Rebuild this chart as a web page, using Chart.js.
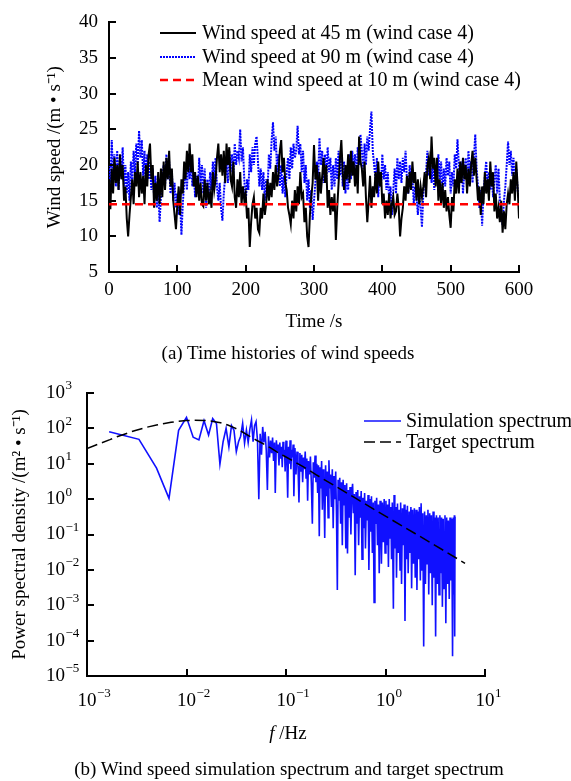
<!DOCTYPE html>
<html><head><meta charset="utf-8">
<script src="https://cdn.jsdelivr.net/npm/chart.js@4.4.0/dist/chart.umd.min.js"></script>
<style>
html,body{margin:0;padding:0;background:#fff;}
body{width:571px;height:781px;position:relative;overflow:hidden;font-family:'Liberation Serif','Times New Roman',serif;color:#000;}
#ca{position:absolute;left:0;top:0;}
#cb{position:absolute;left:0;top:365px;}
.lbl{position:absolute;transform:translate(-50%,-50%);white-space:nowrap;font-size:19px;line-height:1;}
</style></head><body>
<canvas id="ca" width="571" height="365"></canvas>
<canvas id="cb" width="571" height="416"></canvas>
<div class="lbl" style="left:288px;top:352px">(a) Time histories of wind speeds</div>
<div class="lbl" style="left:288px;top:732px"><i>f</i> /Hz</div>
<div class="lbl" style="left:289px;top:768px">(b) Wind speed simulation spectrum and target spectrum</div>
<script>
// ---------- (a) time histories ----------
const timeStep = 2; // seconds between samples
const timeTicks = [0, 100, 200, 300, 400, 500, 600];
const speedTicks = [5, 10, 15, 20, 25, 30, 35, 40];
const speed45 = [
 18, 13.8, 19.5, 16, 21, 17.5, 20, 16.5, 21.5, 18,
 20, 15, 17, 12.5, 10, 13, 15.5, 18, 14.5, 19,
 17, 20.5, 15.5, 19, 16, 18.5, 14.5, 20, 17, 21.5,
 23, 18, 20, 14, 17.5, 15, 19, 14.5, 19.5, 15.5,
 20.5, 16.5, 21, 18, 22, 17, 19.5, 15, 13, 11,
 14.5, 17, 13, 18, 16, 20.5, 18, 22, 19, 23,
 19, 21.5, 17, 19, 15.5, 18.5, 15, 17.5, 14.5, 14.2,
 18, 15, 17.5, 14.5, 16, 14, 19, 16.5, 18, 21,
 23, 19, 21.5, 18.5, 22, 17.5, 23, 20, 22.5, 18,
 17, 20.5, 15.5, 14, 18, 15.5, 19, 14.5, 17, 15,
 16, 12.5, 14, 8.5, 12, 14.5, 15.5, 12.5, 14, 11,
 10.5, 14, 12.5, 16, 13, 14.5, 18, 15, 17.5, 15.5,
 19, 16.5, 20, 17, 18.5, 22, 23.5, 19, 21, 17.5,
 16.5, 14, 13, 11.7, 15, 12.5, 16.5, 13.5, 17, 14.5,
 19, 15.5, 16, 12, 14, 10, 8.5, 13, 15.5, 17.5,
 22.8, 18, 20, 15, 19, 16, 18.5, 21, 17.5, 20,
 14, 16.5, 13, 15.5, 13.5, 16, 9.5, 14, 17.5, 21,
 23.5, 19, 16.5, 20, 18, 21.5, 17.5, 22, 18.5, 20.5,
 17, 20, 16, 24, 20.5, 19.5, 17, 20.5, 15.5, 12,
 15, 18.5, 14, 17, 15.5, 19, 16, 20.5, 17, 19,
 14.5, 16, 12.5, 15, 13, 16, 12.5, 14.5, 15.5, 13,
 13.5, 16, 14, 10, 12.5, 14, 17, 15, 18.5, 16,
 19, 16.5, 20.5, 17.5, 19, 15, 18, 14.5, 17, 15.5,
 17, 19, 15.5, 20, 21, 18, 24, 19.5, 21, 17,
 21, 15, 18, 14.5, 17.5, 14, 16.5, 13.5, 15.5, 13,
 11.2, 15.5, 13.5, 18, 16, 19.5, 16, 20.5, 17.5, 21,
 18, 20, 16, 19.5, 17, 20, 22, 18.5, 21, 18,
 15, 17, 13, 17, 14.5, 19, 16, 18, 15, 20.5,
 17, 19, 13.5, 16, 12.5, 14, 12, 15, 10.5, 13.5,
 11, 14.5, 16, 14.5, 18, 16, 19, 15, 20.5, 17,
 12.5
];
const speed90 = [
 20, 17.5, 23.5, 18.5, 21.5, 17, 22, 16.5, 21, 18.5,
 22.5, 17, 20, 16, 19, 15, 20.5, 17.5, 22, 19,
 23, 20, 24.8, 21, 23.5, 18.5, 22, 17, 21.5, 18,
 20.5, 16.5, 19.5, 15.5, 18.5, 14, 17, 12, 15.5, 18,
 20, 17, 21.5, 18, 20.5, 16, 19, 15, 17.5, 14,
 16, 13, 15, 10.2, 14.5, 17.5, 19, 16.5, 21, 18,
 20.5, 17, 19, 15.5, 18.5, 16, 21, 17.5, 20, 16,
 19.5, 14, 18, 15.5, 19, 16.5, 20.5, 18, 21, 17,
 15, 17.5, 14, 12.2, 16, 18.5, 20, 17.5, 22, 19,
 21.5, 18.5, 23, 20, 22, 21, 25, 20.5, 22.5, 18,
 14.5, 18, 16.5, 21.5, 19, 22.5, 20, 23, 24, 20.5,
 17, 19.5, 16.5, 19, 15, 18, 16.5, 21.5, 19.5, 23.5,
 26, 22, 24, 19, 21.5, 17, 20, 16, 18.5, 15.5,
 19, 21, 18, 22.5, 19.5, 23, 21, 22, 25.5, 21.5,
 23, 19, 22, 17.5, 20, 15, 18, 14, 16.5, 12.3,
 15, 17.5, 20.5, 18, 23.8, 20, 22, 17.5, 21.5, 18,
 22.5, 19, 21, 16.5, 20, 17, 21, 18, 22, 18.5,
 21.5, 17, 20.5, 16, 19, 16.5, 21.5, 18, 22, 19,
 21.5, 18, 22.5, 20, 24.3, 22, 19.5, 23, 20, 24,
 22, 25, 27.5, 22, 20, 18, 21, 15.5, 19, 17,
 21.5, 18, 20, 16.5, 19, 15, 17, 13, 16.5, 19.5,
 16, 21, 18, 20.5, 17.5, 21, 19, 22, 18, 16,
 20, 17.5, 18.5, 14.5, 17, 15.5, 13, 16, 14, 11.3,
 16, 18, 19, 22, 18.5, 21, 17.5, 20, 16.5, 20,
 17.5, 21.5, 18, 20.5, 16, 19.5, 17, 21, 18.5, 20.5,
 16, 19, 17, 21.5, 19.5, 23.6, 20, 17.5, 20.5, 16,
 19, 21, 17.5, 22, 19, 20.5, 17.5, 21, 24.3, 19.5,
 17, 14, 16.5, 11.5, 16, 18.5, 20.5, 17, 19, 16.5,
 19, 15.5, 18, 20, 16, 19.5, 15, 13, 11.6, 15,
 17, 20, 23.3, 20, 22, 18.5, 21, 17, 19.5, 16.5,
 15
];
const meanSpeed10 = 14.5;
const labelsA = ['Wind speed at 45 m (wind case 4)', 'Wind speed at 90 m (wind case 4)', 'Mean wind speed at 10 m (wind case 4)'];

// ---------- (b) spectra ----------
const freqTickExps = [-3, -2, -1, 0, 1];
const psdTickExps = [-5, -4, -3, -2, -1, 0, 1, 2, 3];
const simSpectrum = [
 [0.00167,80],[0.00333,49],[0.005,7.5],[0.00667,1.05],[0.00833,88],[0.01,205],[0.01167,56],[0.01333,47],
 [0.015,165],[0.01667,65],[0.01833,190],[0.02,138],[0.02167,9.8],[0.02333,42],[0.025,100],[0.02667,30],
 [0.02833,120],[0.03,89],[0.03167,22],[0.03333,42],[0.035,60],[0.03667,138],[0.03833,38],[0.04,90],
 [0.04167,40],[0.04333,95],[0.045,173],[0.04667,42],[0.04833,120],[0.05,155],
 [0.0517,45],[0.0533,1.0],[0.055,70],[0.0567,18],[0.0583,110],[0.06,40],[0.0617,80],[0.0633,25],[0.065,1.8],
 [0.0667,60],[0.0683,15],[0.07,45],[0.0717,20],[0.0733,55],[0.075,12],[0.0767,40],[0.078,1.5],[0.08,46],
 [0.0817,22],[0.0833,35],[0.085,9],[0.0867,40],[0.088,14],[0.09,30],[0.0917,8],[0.0933,42],[0.095,18],
 [0.0967,25],[0.098,6],[0.1,45],
 [0.102,12],[0.104,1.1],[0.106,30],[0.108,10],[0.11,46],[0.112,7],[0.114,25],[0.116,15],[0.118,35],[0.12,1.2],
 [0.123,28],[0.126,5],[0.129,22],[0.132,9],[0.135,0.8],[0.138,20],[0.141,6],[0.144,18],[0.147,3],[0.15,15],
 [0.153,7],[0.156,22],[0.159,4],[0.162,14],[0.165,0.9],[0.168,12],[0.172,5],[0.176,16],[0.18,2.5],[0.184,0.2],
 [0.188,11],[0.192,4],[0.196,17],[0.2,3],
 [0.204,10],[0.208,1.5],[0.212,9],[0.216,0.09],[0.22,8],[0.224,2],[0.228,12],[0.232,0.5],[0.236,7],[0.24,3],
 [0.245,0.08],[0.25,9],[0.255,1.2],[0.26,6],[0.265,0.3],[0.27,12.5],[0.275,2],[0.28,5],[0.286,0.6],[0.292,7],
 [0.298,0.15],[0.304,4.5],[0.31,1],[0.316,6],[0.322,0.3],[0.328,0.0027],[0.334,3.5],[0.34,0.9],[0.347,4],
 [0.354,0.2],[0.361,3],[0.368,0.05],[0.375,3.5],[0.383,0.7],[0.391,2.5],[0.399,0.04],[0.407,2.8],[0.415,0.029],
 [0.423,1.8],[0.431,0.3],[0.44,2.2],[0.449,0.1],[0.458,1.5],[0.467,2.7],[0.476,0.4],[0.486,1.4],[0.496,0.007],
 [0.506,1.6],
 [0.516,0.2],[0.526,1.8],[0.537,0.05],[0.548,1.2],[0.559,0.3],[0.57,1.7],[0.581,0.02],[0.593,1.1],[0.605,0.15],
 [0.617,1.5],[0.629,0.04],[0.642,0.9],[0.655,0.25],[0.668,1.3],[0.681,0.01],[0.695,1.0],[0.709,0.12],[0.723,1.2],
 [0.738,0.03],[0.753,0.8],[0.768,0.0012],[0.783,0.9],[0.799,0.2],[0.815,1.1],[0.831,0.05],[0.848,0.7],
 [0.865,0.008],[0.882,0.9],[0.9,0.1],[0.91,0.015],[0.93,0.8],[0.95,0.06],[0.97,1.0],[0.99,0.03],
 [1.01,0.9],[1.03,0.05],[1.05,0.7],[1.07,0.012],[1.09,1.0],[1.11,0.08],[1.13,0.6],[1.15,0.02],[1.17,0.8],
 [1.2,0.0008],[1.22,1.3],[1.24,0.04],[1.27,0.6],[1.29,0.006],[1.32,0.75],[1.34,0.03],[1.37,0.5],[1.4,0.01],
 [1.42,0.8],[1.45,0.004],[1.48,0.55],[1.51,0.05],[1.54,0.7],[1.57,0.00036],[1.6,0.5],[1.63,0.02],[1.66,0.65],
 [1.69,0.008],[1.73,0.45],[1.76,0.03],[1.8,0.6],[1.83,0.003],[1.87,0.5],[1.91,0.015],[1.95,0.55],[1.99,0.006],
 [2.03,0.5],[2.07,0.0027],[2.11,0.45],[2.15,0.02],[2.19,0.6],[2.24,0.005],[2.28,0.76],[2.33,0.01],[2.37,0.4],
 [2.42,0.000068],[2.47,0.45],[2.52,0.004],[2.57,0.35],[2.62,0.015],[2.67,0.5],[2.72,0.002],[2.78,0.4],
 [2.83,0.008],[2.89,0.35],[2.95,0.001],[3.01,0.45],[3.07,0.006],[3.13,0.3],[3.19,0.00013],[3.25,0.35],
 [3.32,0.004],[3.38,0.3],[3.45,0.002],[3.52,0.35],[3.59,0.008],[3.66,0.3],[3.73,0.0009],[3.8,0.28],[3.88,0.003],
 [3.96,0.35],[4.04,0.00031],[4.12,0.3],[4.2,0.004],[4.28,0.25],[4.37,0.0015],[4.45,0.3],[4.54,0.005],[4.63,0.28],
 [4.72,0.000036],[4.8,0.3],[4.86,0.002],[4.92,0.35],[4.96,0.00013],[5.0,0.32]
];
const targetSpectrum = [
 [0.001,27],[0.0013,36],[0.0017,48],[0.002,58],[0.0025,72],[0.003,86],[0.004,108],[0.005,124],[0.006,137],
 [0.007,148],[0.008,157],[0.01,166],[0.012,170],[0.015,168],[0.018,160],[0.022,145],[0.026,125],[0.03,105],
 [0.035,85],[0.04,68],[0.05,47],[0.06,36],[0.07,28],[0.085,20],[0.1,15.5],[0.15,8.2],[0.2,4.9],[0.3,2.5],
 [0.5,1.06],[1,0.33],[2,0.105],[4,0.033],[6.3,0.0153]
];
const labelsB = ['Simulation spectrum', 'Target spectrum'];

// ---------- helpers ----------
const FONT = "'Liberation Serif','Times New Roman',serif";
Chart.defaults.font.family = FONT;
Chart.defaults.font.size = 19;
Chart.defaults.color = '#000';
const setTicks = vals => (s => { s.ticks = vals.map(v => ({value: v})); });

const innerTicks = {
  id: 'innerTicks',
  afterDatasetsDraw(chart) {
    const ctx = chart.ctx, a = chart.chartArea, xs = chart.scales.x, ys = chart.scales.y;
    ctx.save(); ctx.strokeStyle = '#000'; ctx.lineWidth = 2; ctx.setLineDash([]);
    xs.ticks.forEach(t => { const p = Math.round(xs.getPixelForValue(t.value)); ctx.beginPath(); ctx.moveTo(p, a.bottom); ctx.lineTo(p, a.bottom - 7); ctx.stroke(); });
    ys.ticks.forEach(t => { const p = Math.round(ys.getPixelForValue(t.value)); ctx.beginPath(); ctx.moveTo(a.left, p); ctx.lineTo(a.left + 7, p); ctx.stroke(); });
    ctx.restore();
  }
};
const lineLegend = {
  id: 'lineLegend',
  afterDraw(chart, args, o) {
    const ctx = chart.ctx;
    ctx.save();
    ctx.font = o.fontSize + 'px ' + FONT; ctx.textBaseline = 'middle'; ctx.textAlign = 'left'; ctx.fillStyle = '#000';
    o.order.forEach((di, k) => {
      const ds = chart.data.datasets[di], y = o.rows[k];
      ctx.strokeStyle = ds.borderColor; ctx.lineWidth = o.lineWidths ? o.lineWidths[k] : ds.borderWidth; ctx.setLineDash(ds.borderDash || []);
      ctx.beginPath(); ctx.moveTo(o.x0, y); ctx.lineTo(o.x1, y); ctx.stroke();
      ctx.fillText(ds.label, o.xt, y + 1);
    });
    ctx.restore();
  }
};
// power-of-ten tick labels with a real raised exponent
const powLabels = {
  id: 'powLabels',
  afterDraw(chart, args, o) {
    const ctx = chart.ctx, xs = chart.scales.x, ys = chart.scales.y;
    const base = o.base + 'px ' + FONT, sup = o.sup + 'px ' + FONT;
    const draw = (v, x, y, align) => {
      const e = String(Math.round(Math.log10(v))).replace('-', '\u2212');
      ctx.font = base; const wb = ctx.measureText('10').width;
      const left = align === 'left' ? x : x - wb / 2;
      ctx.font = base; ctx.fillText('10', left, y);
      ctx.font = sup; ctx.fillText(e, left + wb + 0.5, y - o.raise);
    };
    ctx.save(); ctx.fillStyle = '#000'; ctx.textBaseline = 'middle'; ctx.textAlign = 'left';
    xs.ticks.forEach(t => draw(t.value, xs.getPixelForValue(t.value), chart.chartArea.bottom + o.xOffset, 'center'));
    ys.ticks.forEach(t => draw(t.value, o.yLeft, ys.getPixelForValue(t.value), 'left'));
    ctx.restore();
  }
};

// ---------- chart (a) ----------
new Chart(document.getElementById('ca'), {
  type: 'line',
  data: { datasets: [
    { label: labelsA[2], data: [{x: timeTicks[0], y: meanSpeed10}, {x: timeTicks[timeTicks.length-1], y: meanSpeed10}],
      borderColor: '#ff0000', borderWidth: 2.5, borderDash: [8, 5] },
    { label: labelsA[0], data: speed45.map((v, i) => ({x: i * timeStep, y: v})), borderColor: '#000000', borderWidth: 2 },
    { label: labelsA[1], data: speed90.map((v, i) => ({x: i * timeStep, y: v})), borderColor: '#0000ff', borderWidth: 2, borderDash: [2, 1] }
  ]},
  options: {
    responsive: false, animation: false, devicePixelRatio: 1,
    layout: { padding: { left: 0, right: 52, top: 15, bottom: 0 } },
    elements: { point: { radius: 0 }, line: { tension: 0 } },
    plugins: { legend: { display: false }, tooltip: { enabled: false },
      lineLegend: { order: [1, 2, 0], rows: [33, 57, 80], x0: 160, x1: 196, xt: 202, fontSize: 20, lineWidths: [2, 2, 2.5] } },
    scales: {
      x: { type: 'linear', min: 0, max: 600, afterBuildTicks: setTicks(timeTicks), afterFit: s => { s.height = 93; },
        grid: { display: false, drawTicks: false }, border: { display: true, color: '#000', width: 2 },
        ticks: { padding: 7, maxRotation: 0, font: { size: 19 } },
        title: { display: true, text: 'Time /s', font: { size: 19 }, padding: { top: 0, bottom: 32 } } },
      y: { type: 'linear', min: 5, max: 40, afterBuildTicks: setTicks(speedTicks), afterFit: s => { s.width = 109; },
        grid: { display: false, drawTicks: false }, border: { display: true, color: '#000', width: 2 },
        ticks: { padding: 11, font: { size: 19 } },
        title: { display: true, text: 'Wind speed /(m \u2022 s\u207B\u00B9)', font: { size: 19 }, padding: { top: 44, bottom: 0 } } }
    }
  },
  plugins: [innerTicks, lineLegend]
});

// ---------- chart (b) ----------
new Chart(document.getElementById('cb'), {
  type: 'line',
  data: { datasets: [
    { label: labelsB[1], data: targetSpectrum.map(p => ({x: p[0], y: p[1]})), borderColor: '#000000', borderWidth: 1.5, borderDash: [11, 5] },
    { label: labelsB[0], data: simSpectrum.map(p => ({x: p[0], y: p[1]})), borderColor: '#1010ff', borderWidth: 1.6 }
  ]},
  options: {
    responsive: false, animation: false, devicePixelRatio: 1,
    layout: { padding: { left: 0, right: 86, top: 28, bottom: 0 } },
    elements: { point: { radius: 0 }, line: { tension: 0 } },
    plugins: { legend: { display: false }, tooltip: { enabled: false },
      lineLegend: { order: [1, 0], rows: [56, 77], x0: 364, x1: 401, xt: 406, fontSize: 20, lineWidths: [1.4, 1.5] },
      powLabels: { base: 19, sup: 13, raise: 7, xOffset: 25, yLeft: 46 } },
    scales: {
      x: { type: 'logarithmic', min: 1e-3, max: 10, afterBuildTicks: setTicks(freqTickExps.map(e => Math.pow(10, e))),
        afterFit: s => { s.height = 105; },
        grid: { display: false, drawTicks: false }, border: { display: true, color: '#000', width: 2 },
        ticks: { display: false } },
      y: { type: 'logarithmic', min: 1e-5, max: 1e3, afterBuildTicks: setTicks(psdTickExps.map(e => Math.pow(10, e))),
        afterFit: s => { s.width = 87; },
        grid: { display: false, drawTicks: false }, border: { display: true, color: '#000', width: 2 },
        ticks: { display: false },
        title: { display: true, text: 'Power spectral density /(m\u00B2 \u2022 s\u207B\u00B9)', font: { size: 19 }, padding: { top: 9, bottom: 0 } } }
    }
  },
  plugins: [innerTicks, lineLegend, powLabels]
});
</script>
</body></html>
